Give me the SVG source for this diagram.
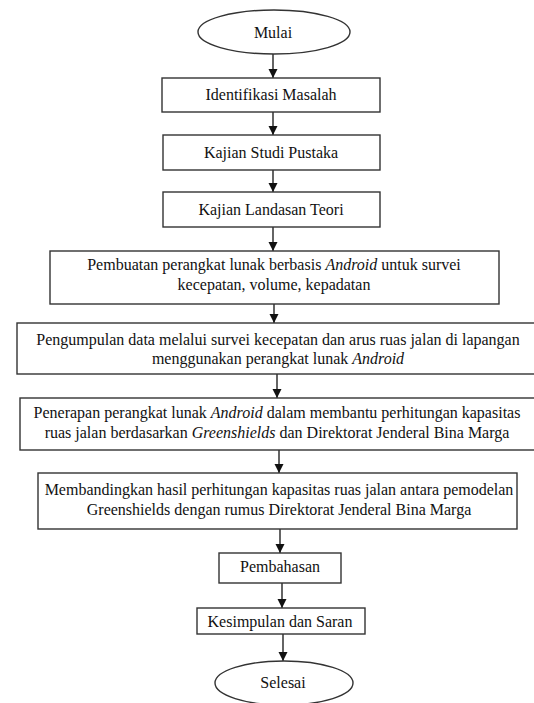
<svg xmlns="http://www.w3.org/2000/svg" width="534" height="703" viewBox="0 0 534 703">
<defs>
<marker id="ah" markerUnits="userSpaceOnUse" markerWidth="10" markerHeight="11" refX="9" refY="4.5" orient="auto">
<path d="M0,0 L9,4.5 L0,9 Z" fill="#111"/>
</marker>
</defs>
<rect width="534" height="703" fill="#fff"/>
<g id="connectors" stroke="#111" stroke-width="1.3" fill="none" marker-end="url(#ah)">
<line x1="273" y1="54" x2="273" y2="78"/>
<line x1="273" y1="112" x2="273" y2="135"/>
<line x1="273" y1="170" x2="273" y2="192"/>
<line x1="273" y1="227" x2="273" y2="251"/>
<line x1="274" y1="304" x2="274" y2="323"/>
<line x1="277" y1="374" x2="277" y2="398"/>
<line x1="279" y1="450" x2="279" y2="473"/>
<line x1="280" y1="529" x2="280" y2="553"/>
<line x1="282" y1="583" x2="282" y2="608"/>
<line x1="283" y1="634" x2="283" y2="661"/>
</g>
<g id="mulai">
<ellipse cx="274" cy="32" rx="76" ry="22" fill="#fff" stroke="#333" stroke-width="1.4"/>
<text x="273" y="38" style="font-family:'Liberation Serif',serif;font-size:16px" text-anchor="middle" fill="#111">Mulai</text>
</g>
<g id="identifikasi">
<rect x="162" y="78" width="218" height="34" fill="#fff" stroke="#333" stroke-width="1.4"/>
<text x="271" y="100" style="font-family:'Liberation Serif',serif;font-size:16px" text-anchor="middle" fill="#111">Identifikasi Masalah</text>
</g>
<g id="studi-pustaka">
<rect x="163" y="135" width="217" height="35" fill="#fff" stroke="#333" stroke-width="1.4"/>
<text x="271" y="158" style="font-family:'Liberation Serif',serif;font-size:16px" text-anchor="middle" fill="#111">Kajian Studi Pustaka</text>
</g>
<g id="landasan-teori">
<rect x="163" y="192" width="217" height="35" fill="#fff" stroke="#333" stroke-width="1.4"/>
<text x="271" y="215" style="font-family:'Liberation Serif',serif;font-size:16px" text-anchor="middle" fill="#111">Kajian Landasan Teori</text>
</g>
<g id="pembuatan">
<rect x="50" y="251" width="449" height="53" fill="#fff" stroke="#333" stroke-width="1.4"/>
<text x="274" y="270" style="font-family:'Liberation Serif',serif;font-size:16px" text-anchor="middle" fill="#111">Pembuatan perangkat lunak berbasis <tspan font-style="italic">Android</tspan> untuk survei</text>
<text x="274" y="290" style="font-family:'Liberation Serif',serif;font-size:16px" text-anchor="middle" fill="#111">kecepatan, volume, kepadatan</text>
</g>
<g id="pengumpulan">
<rect x="17" y="323" width="525" height="51" fill="#fff" stroke="#333" stroke-width="1.4"/>
<text x="278" y="345" style="font-family:'Liberation Serif',serif;font-size:16px" text-anchor="middle" fill="#111">Pengumpulan data melalui survei kecepatan dan arus ruas jalan di lapangan</text>
<text x="278" y="364" style="font-family:'Liberation Serif',serif;font-size:16px" text-anchor="middle" fill="#111">menggunakan perangkat lunak <tspan font-style="italic">Android</tspan></text>
</g>
<g id="penerapan">
<rect x="20" y="398" width="525" height="52" fill="#fff" stroke="#333" stroke-width="1.4"/>
<text x="277" y="418" style="font-family:'Liberation Serif',serif;font-size:16px" text-anchor="middle" fill="#111">Penerapan perangkat lunak <tspan font-style="italic">Android</tspan> dalam membantu perhitungan kapasitas</text>
<text x="277" y="438" style="font-family:'Liberation Serif',serif;font-size:16px" text-anchor="middle" fill="#111">ruas jalan berdasarkan <tspan font-style="italic">Greenshields</tspan> dan Direktorat Jenderal Bina Marga</text>
</g>
<g id="membandingkan">
<rect x="38" y="473" width="479" height="56" fill="#fff" stroke="#333" stroke-width="1.4"/>
<text x="279" y="495" style="font-family:'Liberation Serif',serif;font-size:16px" text-anchor="middle" fill="#111">Membandingkan hasil perhitungan kapasitas ruas jalan antara pemodelan</text>
<text x="279" y="515" style="font-family:'Liberation Serif',serif;font-size:16px" text-anchor="middle" fill="#111">Greenshields dengan rumus Direktorat Jenderal Bina Marga</text>
</g>
<g id="pembahasan">
<rect x="219" y="553" width="122" height="30" fill="#fff" stroke="#333" stroke-width="1.4"/>
<text x="280" y="572" style="font-family:'Liberation Serif',serif;font-size:16px" text-anchor="middle" fill="#111">Pembahasan</text>
</g>
<g id="kesimpulan">
<rect x="197" y="608" width="168" height="26" fill="#fff" stroke="#333" stroke-width="1.4"/>
<text x="280" y="627" style="font-family:'Liberation Serif',serif;font-size:16px" text-anchor="middle" fill="#111">Kesimpulan  dan Saran</text>
</g>
<g id="selesai">
<ellipse cx="284" cy="683" rx="69" ry="22" fill="#fff" stroke="#333" stroke-width="1.4"/>
<text x="283" y="688" style="font-family:'Liberation Serif',serif;font-size:16px" text-anchor="middle" fill="#111">Selesai</text>
</g>
</svg>
